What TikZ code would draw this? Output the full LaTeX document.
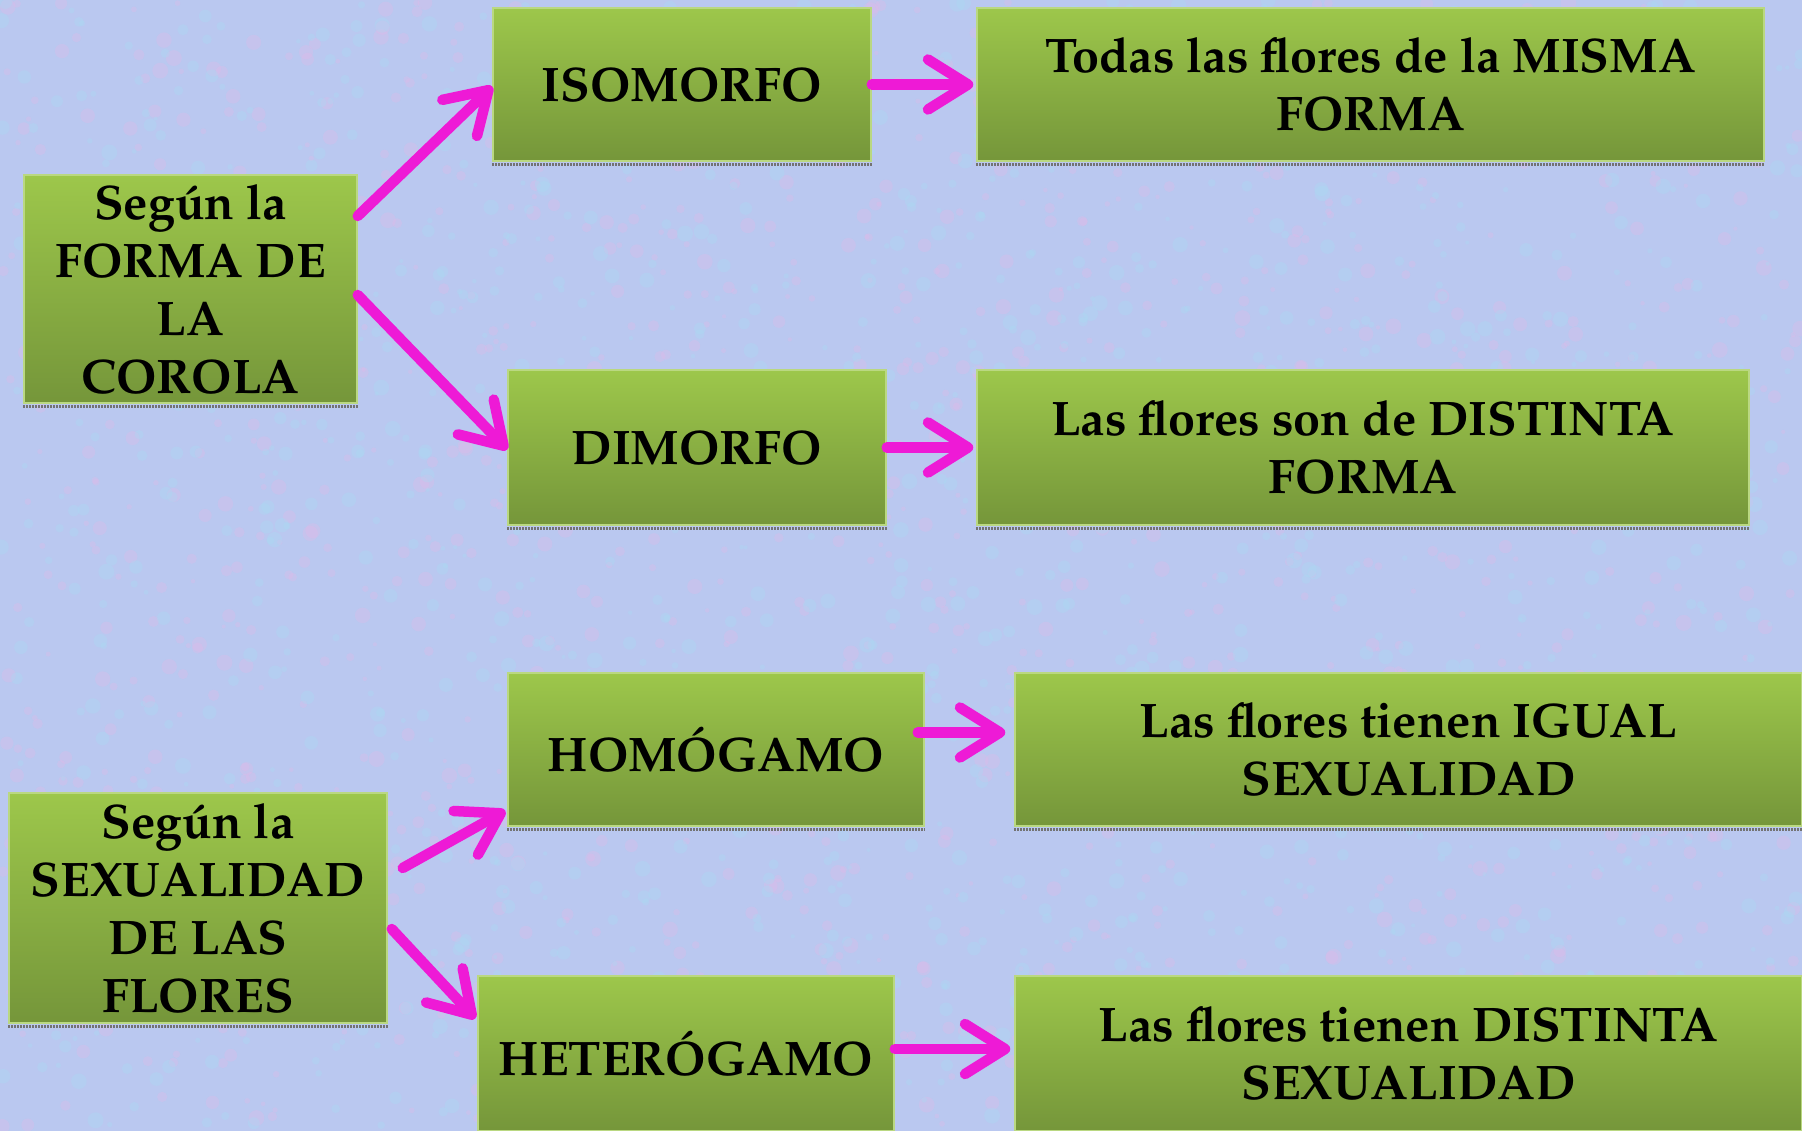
\documentclass[tikz,border=0pt]{standalone}
\usepackage[T1]{fontenc}
\usepackage{mathpazo}
\usepackage{tikz}
\usetikzlibrary{arrows.meta}
\definecolor{fondo}{HTML}{BAC8F0}
\definecolor{manchaA}{HTML}{E4B8E8}
\definecolor{manchaB}{HTML}{A8DCF4}
\definecolor{verdeA}{HTML}{9DC74B}
\definecolor{verdeB}{HTML}{75963A}
\definecolor{flecha}{HTML}{EE1AD6}

\begin{document}
\begin{tikzpicture}[x=1pt,y=-1pt,
caja/.style={rectangle, top color=verdeA, bottom color=verdeB, draw=verdeA!70!white, line width=1.5pt, align=center, inner sep=0pt, font=\fontsize{48.5}{58}\selectfont\bfseries},
sombra/.style={draw=black!55, line width=3pt, dash pattern=on 1.5pt off 1.5pt},
flechita/.style={-{Straight Barb[length=40pt,width=50pt,round]}, line width=10.5pt, draw=flecha, line cap=round}]
\clip (0,0) rectangle (1802,1131);
\fill[fondo] (0,0) rectangle (1802,1131);
\pgfmathsetseed{11}
\foreach \i in {1,...,1400}
  \fill[manchaA, opacity=0.3] ({rnd*1802},{rnd*1131}) circle ({2+rnd*6});
\foreach \i in {1,...,1400}
  \fill[manchaB, opacity=0.3] ({rnd*1802},{rnd*1131}) circle ({2+rnd*6});
\node[caja, minimum width=333pt, minimum height=228pt] (0) at (190.5,289) {Según la\\FORMA DE\\LA\\COROLA};
\node[caja, minimum width=378pt, minimum height=153pt] (1) at (682,84.5) {ISOMORFO};
\node[caja, minimum width=787pt, minimum height=153pt] (2) at (1370.5,84.5) {Todas las flores de la MISMA\\FORMA};
\node[caja, minimum width=378pt, minimum height=155pt] (3) at (697,447.5) {DIMORFO};
\node[caja, minimum width=772pt, minimum height=155pt] (4) at (1363,447.5) {Las flores son de DISTINTA\\FORMA};
\node[caja, minimum width=378pt, minimum height=230pt] (5) at (198,908) {Según la\\SEXUALIDAD\\DE LAS\\FLORES};
\node[caja, minimum width=416pt, minimum height=153pt] (6) at (716,749.5) {HOMÓGAMO};
\node[caja, minimum width=787pt, minimum height=153pt] (7) at (1408.5,749.5) {Las flores tienen IGUAL\\SEXUALIDAD};
\node[caja, minimum width=416pt, minimum height=155pt] (8) at (686,1053.5) {HETERÓGAMO};
\node[caja, minimum width=787pt, minimum height=155pt] (9) at (1408.5,1053.5) {Las flores tienen DISTINTA\\SEXUALIDAD};
\foreach \n in {0,...,9}
  \draw[sombra] ([yshift=-3pt]\n.south west) -- ([yshift=-3pt]\n.south east);
\draw[flechita] ([yshift=73pt]0.east) -- ([yshift=-2pt]1.west);
\draw[flechita] ([yshift=-6pt]0.east) -- ([yshift=-2pt]3.west);
\draw[flechita] (1.east) -- ([xshift=-3pt]2.west);
\draw[flechita] (3.east) -- ([xshift=-3pt]4.west);
\draw[flechita] ([xshift=15pt,yshift=40pt]5.east) -- ([xshift=-2pt,yshift=16pt]6.south west);
\draw[flechita] ([xshift=4pt,yshift=-21pt]5.east) -- ([xshift=-2pt,yshift=35pt]8.west);
\draw[flechita] ([xshift=-7pt,yshift=17pt]6.east) -- ([xshift=-9pt,yshift=17pt]7.west);
\draw[flechita] ([yshift=4.5pt]8.east) -- ([xshift=-4pt,yshift=4.5pt]9.west);
\end{tikzpicture}
\end{document}
